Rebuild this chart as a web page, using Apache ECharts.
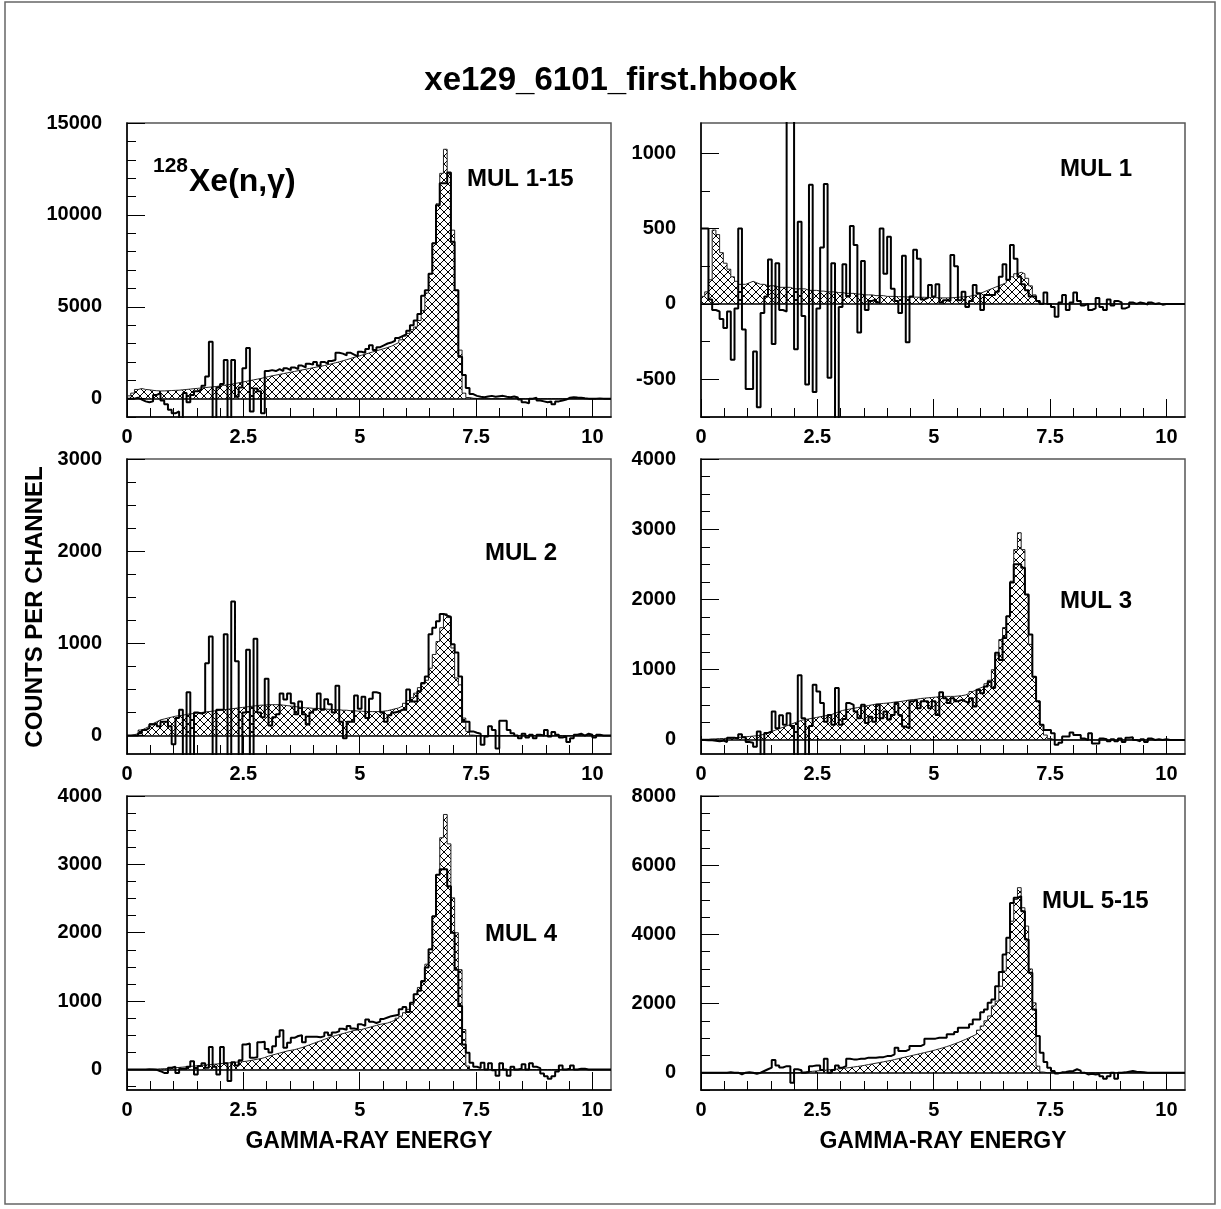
<!DOCTYPE html>
<html><head><meta charset="utf-8">
<script src="https://cdn.jsdelivr.net/npm/echarts@6/dist/echarts.min.js"></script>
<style>html,body{margin:0;padding:0;background:#fff}#c{width:1221px;height:1209px}</style>
</head><body><div id="c"></div>
<script>
// ---------------- DATA ----------------
const BIN_WIDTH = 0.08;   // MeV per channel, 130 channels
const X_MAX = 10.4;
const xMajorTicks = [0, 2.5, 5, 7.5, 10];
const xMinorTicks = [0.5, 1, 1.5, 2, 3, 3.5, 4, 4.5, 5.5, 6, 6.5, 7, 8, 8.5, 9, 9.5];

const panelTitles = ['MUL 1-15', 'MUL 1', 'MUL 2', 'MUL 3', 'MUL 4', 'MUL 5-15'];

const yRange1 = [-1000, 15000];
const yMajor1 = [0, 5000, 10000, 15000];
const yMinor1 = [-1000, 1000, 2000, 3000, 4000, 6000, 7000, 8000, 9000, 11000, 12000, 13000, 14000];
const yRange2 = [-750, 1200];
const yMajor2 = [-500, 0, 500, 1000];
const yMinor2 = [-750, -250, 250, 750];
const yRange3 = [-200, 3000];
const yMajor3 = [0, 1000, 2000, 3000];
const yMinor3 = [250, 500, 750, 1250, 1500, 1750, 2250, 2500, 2750];
const yRange4 = [-200, 4000];
const yMajor4 = [0, 1000, 2000, 3000, 4000];
const yMinor4 = [250, 500, 750, 1250, 1500, 1750, 2250, 2500, 2750, 3250, 3500, 3750];
const yRange5 = [-300, 4000];
const yMajor5 = [0, 1000, 2000, 3000, 4000];
const yMinor5 = [-250, 250, 500, 750, 1250, 1500, 1750, 2250, 2500, 2750, 3250, 3500, 3750];
const yRange6 = [-500, 8000];
const yMajor6 = [0, 2000, 4000, 6000, 8000];
const yMinor6 = [-500, 500, 1000, 1500, 2500, 3000, 3500, 4500, 5000, 5500, 6500, 7000, 7500];

// MUL 1-15
const mul1_15_sim = [
150,300,500,550,500,480,450,430,420,420,
430,440,450,460,480,500,520,540,560,580,
600,620,640,660,690,720,750,780,820,860,
900,940,980,1020,1060,1100,1150,1200,1240,1280,
1320,1360,1400,1440,1480,1520,1560,1600,1640,1680,
1720,1760,1800,1850,1900,1950,2000,2060,2120,2180,
2250,2300,2360,2420,2480,2540,2600,2660,2720,2780,
2850,2950,3050,3200,3400,3550,3750,3900,4250,4800,
5750,6800,8460,10600,12260,13570,12260,9170,5900,2640,
300,60,20,10,0,0,0,0,0,0,
0,0,0,0,0,0,0,0,0,0,
0,0,0,0,0,0,0,0,0,0,
0,0,0,0,0,0,0,0,0,0];
const mul1_15_data = [
0,0,50,-50,-150,-200,-150,200,300,-100,
-300,-600,-800,-700,-1100,300,-200,200,400,500,
700,1200,3100,-1100,600,800,2100,-1100,2100,100,
600,1650,2750,-700,550,400,-800,1500,1550,1500,
1600,1500,1650,1550,1700,1600,1800,1700,1900,1850,
2000,1800,2000,1900,2050,2100,2500,2450,2350,2500,
2400,2300,2550,2500,2700,2900,2650,2800,2900,3000,
3050,3150,3300,3400,3500,3700,4000,4250,4600,5600,
5900,6800,8460,10530,11720,11720,12300,8540,5900,2280,
1280,580,250,150,100,80,120,150,100,130,
150,100,80,120,60,-50,-200,-250,0,50,
-100,-150,-200,-150,-300,-150,-100,-50,50,80,
60,50,20,0,0,0,10,0,0,0];

// MUL 1
const mul1_sim = [
50,80,160,490,460,340,270,230,180,150,
130,130,140,150,140,130,130,120,120,120,
110,110,110,110,100,100,100,100,90,90,
90,85,85,80,80,80,75,75,70,70,
70,65,65,60,60,60,55,55,55,50,
50,50,48,48,46,46,45,45,44,44,
43,42,42,40,40,40,40,42,44,46,
48,50,55,60,70,80,90,100,110,120,
130,140,160,180,200,210,200,170,120,60,
20,5,0,0,0,0,0,0,0,0,
0,0,0,0,0,0,0,0,0,0,
0,0,0,0,0,0,0,0,0,0,
0,0,0,0,0,0,0,0,0,0];
const mul1_data = [
500,500,30,-40,-50,-100,-160,-50,-370,-30,
500,-170,-565,-565,-315,-685,-60,50,295,-265,
270,-40,-50,1300,1300,-300,545,-80,-535,790,
-585,-30,375,795,-490,270,-800,-20,263,50,
517,390,-190,285,-40,20,30,10,500,200,
445,100,20,-60,320,-255,50,360,300,30,
40,125,50,130,10,25,20,325,250,25,
80,-20,20,125,70,-40,60,60,60,80,
180,263,160,390,300,180,130,90,50,50,
20,0,75,0,-20,-85,10,60,-40,10,
75,20,-10,0,-40,-30,40,-20,-40,30,
-10,20,10,-30,-20,10,0,10,5,-5,
10,0,5,-5,0,0,0,0,0,0];

// MUL 2
const mul2_sim = [
0,10,20,60,80,100,130,150,170,180,
190,200,210,215,220,230,235,240,245,250,
255,260,265,270,275,280,285,290,295,300,
305,310,315,320,325,330,330,335,335,335,
335,330,325,320,315,310,305,300,300,295,
295,290,290,285,285,280,280,275,275,270,
270,265,265,260,260,260,260,260,265,270,
280,290,300,320,350,380,410,460,520,560,
600,730,880,1020,1170,1320,1280,950,625,550,
190,45,5,0,0,0,0,0,0,0,
0,0,0,0,0,0,0,0,0,0,
0,0,0,0,0,0,0,0,0,0,
0,0,0,0,0,0,0,0,0,0];
const mul2_data = [
0,0,0,25,60,80,120,130,100,150,
150,100,-95,190,280,-250,470,-250,250,240,
250,785,1075,-250,280,280,1100,-250,1455,805,
-250,250,930,-250,1050,250,200,615,110,200,
230,455,390,455,350,230,370,230,120,250,
280,455,280,395,340,250,540,150,-30,150,
150,435,290,420,190,400,470,460,250,150,
220,250,260,280,280,500,370,370,480,570,
640,1100,1170,1240,1320,1300,1290,990,900,640,
150,150,45,30,20,-100,-10,100,60,-140,
160,160,60,25,0,-30,20,-20,10,-30,
10,0,60,-10,40,10,-20,-10,-70,-30,
10,20,0,20,10,-20,10,0,0,0];

// MUL 3
const mul3_sim = [
10,10,15,15,20,20,25,25,30,35,
40,45,50,55,60,70,80,100,120,140,
160,180,200,220,240,260,280,290,300,310,
320,330,340,350,360,380,400,420,430,440,
450,460,470,480,490,500,510,515,520,525,
530,540,545,550,560,570,575,580,590,595,
600,605,610,615,620,620,620,620,625,630,
640,660,690,715,740,760,800,850,1000,1210,
1430,1600,1760,2260,2710,2950,2710,2070,1360,900,
550,215,70,20,0,0,0,0,0,0,
0,0,0,0,0,0,0,0,0,0,
0,0,0,0,0,0,0,0,0,0,
0,0,0,0,0,0,0,0,0,0];
const mul3_data = [
0,-5,-5,-10,-20,-10,-30,30,30,20,
80,40,-30,-40,-95,120,-250,100,120,405,
165,350,215,380,200,-250,920,310,-250,200,
785,690,525,260,357,215,740,215,300,525,
500,405,310,500,240,330,260,500,310,405,
290,357,525,357,190,165,550,570,450,550,
550,450,550,357,680,595,525,595,550,570,
550,525,595,475,715,665,760,830,740,1240,
1140,1450,1760,2240,2500,2500,2450,2070,1500,900,
550,215,140,140,95,-70,-40,50,50,105,
70,70,20,0,95,-50,-50,20,10,-20,
10,-20,20,-30,30,40,0,-20,10,-30,
20,0,10,0,10,0,0,0,0,0];

// MUL 4
const mul4_sim = [
0,0,0,0,0,0,5,5,10,10,
15,20,25,30,35,40,45,50,55,60,
65,70,75,80,85,90,95,100,105,110,
115,120,130,140,150,160,175,195,210,225,
240,255,270,280,290,305,320,340,360,380,
400,420,440,460,480,495,510,525,540,555,
570,580,585,600,615,630,645,660,670,680,
700,720,750,780,830,880,950,1100,1200,1300,
1540,1710,2240,2850,3390,3730,3300,2510,2000,1460,
585,50,0,0,0,0,0,0,0,0,
0,0,0,0,0,0,0,0,0,0,
0,0,0,0,0,0,0,0,0,0,
0,0,0,0,0,0,0,0,0,0];
const mul4_data = [
0,0,0,0,0,5,0,-5,-25,-50,
-50,25,40,-50,10,10,40,120,-75,50,
90,25,330,40,-75,330,90,-170,105,60,
135,365,380,170,180,400,405,300,250,340,
480,575,317,390,463,490,500,400,480,480,
480,470,490,540,500,540,560,595,580,635,
600,590,660,640,730,700,680,700,740,760,
780,790,800,880,915,840,975,1100,1150,1290,
1490,1760,2240,2850,2930,2930,2680,2000,1460,930,
365,245,100,40,20,100,0,90,-10,-90,
90,0,-90,40,0,10,75,0,90,40,
20,-60,-100,-135,-100,-30,60,0,10,60,
0,10,10,0,0,0,0,0,0,0];

// MUL 5-15
const mul5_15_sim = [
0,0,0,0,0,0,0,0,0,0,
0,0,0,0,0,0,0,0,0,0,
0,0,0,0,0,0,10,20,30,40,
50,60,70,80,90,100,110,120,135,150,
165,180,195,215,235,255,275,295,315,335,
355,380,405,430,455,480,505,530,555,580,
605,630,660,690,720,755,790,830,870,915,
960,1010,1060,1110,1230,1350,1500,1640,1930,2070,
2500,2940,3470,4380,5010,5350,4770,4240,3000,2020,
190,20,0,0,0,0,0,0,0,0,
0,0,0,0,0,0,0,0,0,0,
0,0,0,0,0,0,0,0,0,0,
0,0,0,0,0,0,0,0,0,0];
const mul5_15_data = [
0,0,0,0,0,0,0,10,0,0,
-50,0,10,0,-30,0,50,100,145,365,
210,150,190,190,-290,100,70,0,20,190,
210,210,75,405,0,75,210,145,190,405,
385,385,405,405,435,435,435,450,450,480,
480,530,720,625,625,675,770,770,770,820,
985,985,985,1010,1010,1010,1110,1110,1175,1300,
1300,1300,1400,1540,1540,1750,1830,2020,2120,2500,
2910,3420,3900,4910,5060,5100,4670,3850,2890,1830,
1060,580,310,145,50,-20,10,20,40,50,
100,60,0,-50,-30,-50,-40,-100,-175,-100,
0,-175,0,10,30,50,30,20,10,0,
0,0,0,0,0,0,0,0,0,0];

// ---------------- LAYOUT ----------------
const FONT = '"Liberation Sans", Arial, Helvetica, sans-serif';
const panels = [
  {sim: mul1_15_sim, data: mul1_15_data, yr: yRange1, yMaj: yMajor1, yMin: yMinor1, left:127, top:123, h:294},
  {sim: mul1_sim,    data: mul1_data,    yr: yRange2, yMaj: yMajor2, yMin: yMinor2, left:701, top:123, h:294},
  {sim: mul2_sim,    data: mul2_data,    yr: yRange3, yMaj: yMajor3, yMin: yMinor3, left:127, top:459, h:295},
  {sim: mul3_sim,    data: mul3_data,    yr: yRange4, yMaj: yMajor4, yMin: yMinor4, left:701, top:459, h:295},
  {sim: mul4_sim,    data: mul4_data,    yr: yRange5, yMaj: yMajor5, yMin: yMinor5, left:127, top:796, h:294},
  {sim: mul5_15_sim, data: mul5_15_data, yr: yRange6, yMaj: yMajor6, yMin: yMinor6, left:701, top:796, h:294}
];
const labelPos = [
  {x:467, y:179}, {x:1060, y:169}, {x:485, y:553}, {x:1060, y:601}, {x:485, y:934}, {x:1042, y:901}
];

function toPoints(vals) {
  const pts = vals.map((v, i) => [+(i * BIN_WIDTH).toFixed(4), v]);
  pts.push([X_MAX, vals[vals.length - 1]]);
  return pts;
}
function makeHatch(size) {
  const c = document.createElement('canvas');
  c.width = size; c.height = size;
  const g = c.getContext('2d');
  g.strokeStyle = '#000'; g.lineWidth = 1;
  g.beginPath();
  for (const k of [-size, 0, size]) {
    g.moveTo(k, 0); g.lineTo(k + size, size);
    g.moveTo(k, size); g.lineTo(k + size, 0);
  }
  g.stroke();
  return c;
}
const hatch = {image: makeHatch(8), repeat: 'repeat'};

const grid = [], xAxis = [], yAxis = [], series = [];
panels.forEach((p, k) => {
  grid.push({left: p.left, top: p.top, width: 484, height: p.h, show: true,
    borderColor: '#555', borderWidth: 1.5, backgroundColor: 'transparent'});
  const bottomRow = k >= 4;
  xAxis.push({gridIndex: k, type: 'value', min: 0, max: X_MAX, position: 'bottom',
    axisLine: {show: true, onZero: false, lineStyle: {color: '#000', width: 1.5}},
    axisTick: {show: true, inside: true, length: 9, customValues: xMinorTicks, lineStyle: {color: '#000', width: 1}},
    axisLabel: {show: false}, splitLine: {show: false}});
  xAxis.push({gridIndex: k, type: 'value', min: 0, max: X_MAX, position: 'bottom',
    axisLine: {show: false, onZero: false},
    axisTick: {show: true, inside: true, length: 18, customValues: xMajorTicks, lineStyle: {color: '#000', width: 1}},
    axisLabel: {show: true, customValues: xMajorTicks, formatter: v => String(v), margin: 10,
      color: '#000', fontSize: 20, fontWeight: 'bold', fontFamily: FONT},
    splitLine: {show: false},
    name: bottomRow ? 'GAMMA-RAY ENERGY' : '', nameLocation: 'middle', nameGap: 40,
    nameTextStyle: {color: '#000', fontSize: 23, fontWeight: 'bold', fontFamily: FONT}});
  yAxis.push({gridIndex: k, type: 'value', min: p.yr[0], max: p.yr[1], position: 'left',
    axisLine: {show: true, onZero: false, lineStyle: {color: '#000', width: 1.5}},
    axisTick: {show: true, inside: true, length: 9, customValues: p.yMin, lineStyle: {color: '#000', width: 1}},
    axisLabel: {show: false}, splitLine: {show: false}});
  yAxis.push({gridIndex: k, type: 'value', min: p.yr[0], max: p.yr[1], position: 'left',
    axisLine: {show: false, onZero: false},
    axisTick: {show: true, inside: true, length: 18, customValues: p.yMaj, lineStyle: {color: '#000', width: 1}},
    axisLabel: {show: true, customValues: p.yMaj, formatter: v => String(v), margin: 25,
      color: '#000', fontSize: 20, fontWeight: 'bold', fontFamily: FONT},
    splitLine: {show: false}});
  series.push({type: 'line', xAxisIndex: 2 * k, yAxisIndex: 2 * k, data: toPoints(p.sim), step: 'end',
    showSymbol: false, symbol: 'none', lineStyle: {color: '#222', width: 1},
    areaStyle: {color: hatch, opacity: 1}, z: 2, silent: true});
  series.push({type: 'line', xAxisIndex: 2 * k, yAxisIndex: 2 * k, data: toPoints(p.data), step: 'end',
    showSymbol: false, symbol: 'none', lineStyle: {color: '#000', width: 2}, z: 3, silent: true,
    markLine: {silent: true, symbol: 'none', label: {show: false},
      lineStyle: {color: '#000', width: 1.5, type: 'solid'}, data: [{yAxis: 0}]}});
});

const txt = (text, x, y, size, extra) => Object.assign({type: 'text', x, y, silent: true, z: 10,
  style: {text, fill: '#000', font: 'bold ' + size + 'px ' + FONT, align: 'left', verticalAlign: 'middle',
    textAlign: 'left', textVerticalAlign: 'middle'}}, extra || {});

const graphic = [
  {type: 'rect', shape: {x: 5, y: 2, width: 1210, height: 1202}, silent: true, z: -10,
   style: {fill: 'none', stroke: '#666', lineWidth: 1.5}},
  txt('128', 153, 166, 21),
  txt('Xe(n,\u03b3)', 189, 182, 32),
  txt('COUNTS PER CHANNEL', 35, 607, 24, {rotation: Math.PI / 2,
    style: {text: 'COUNTS PER CHANNEL', fill: '#000', font: 'bold 24px ' + FONT, align: 'center', verticalAlign: 'middle',
      textAlign: 'center', textVerticalAlign: 'middle'}})
];
panelTitles.forEach((t, k) => graphic.push(txt(t, labelPos[k].x, labelPos[k].y, 24)));

const chart = echarts.init(document.getElementById('c'), null, {renderer: 'canvas'});
chart.setOption({
  animation: false,
  backgroundColor: '#fff',
  title: {text: 'xe129_6101_first.hbook', left: 'center', top: 59,
    textStyle: {color: '#000', fontSize: 33, fontWeight: 'bold', fontFamily: FONT}},
  grid, xAxis, yAxis, series, graphic
});
</script></body></html>
